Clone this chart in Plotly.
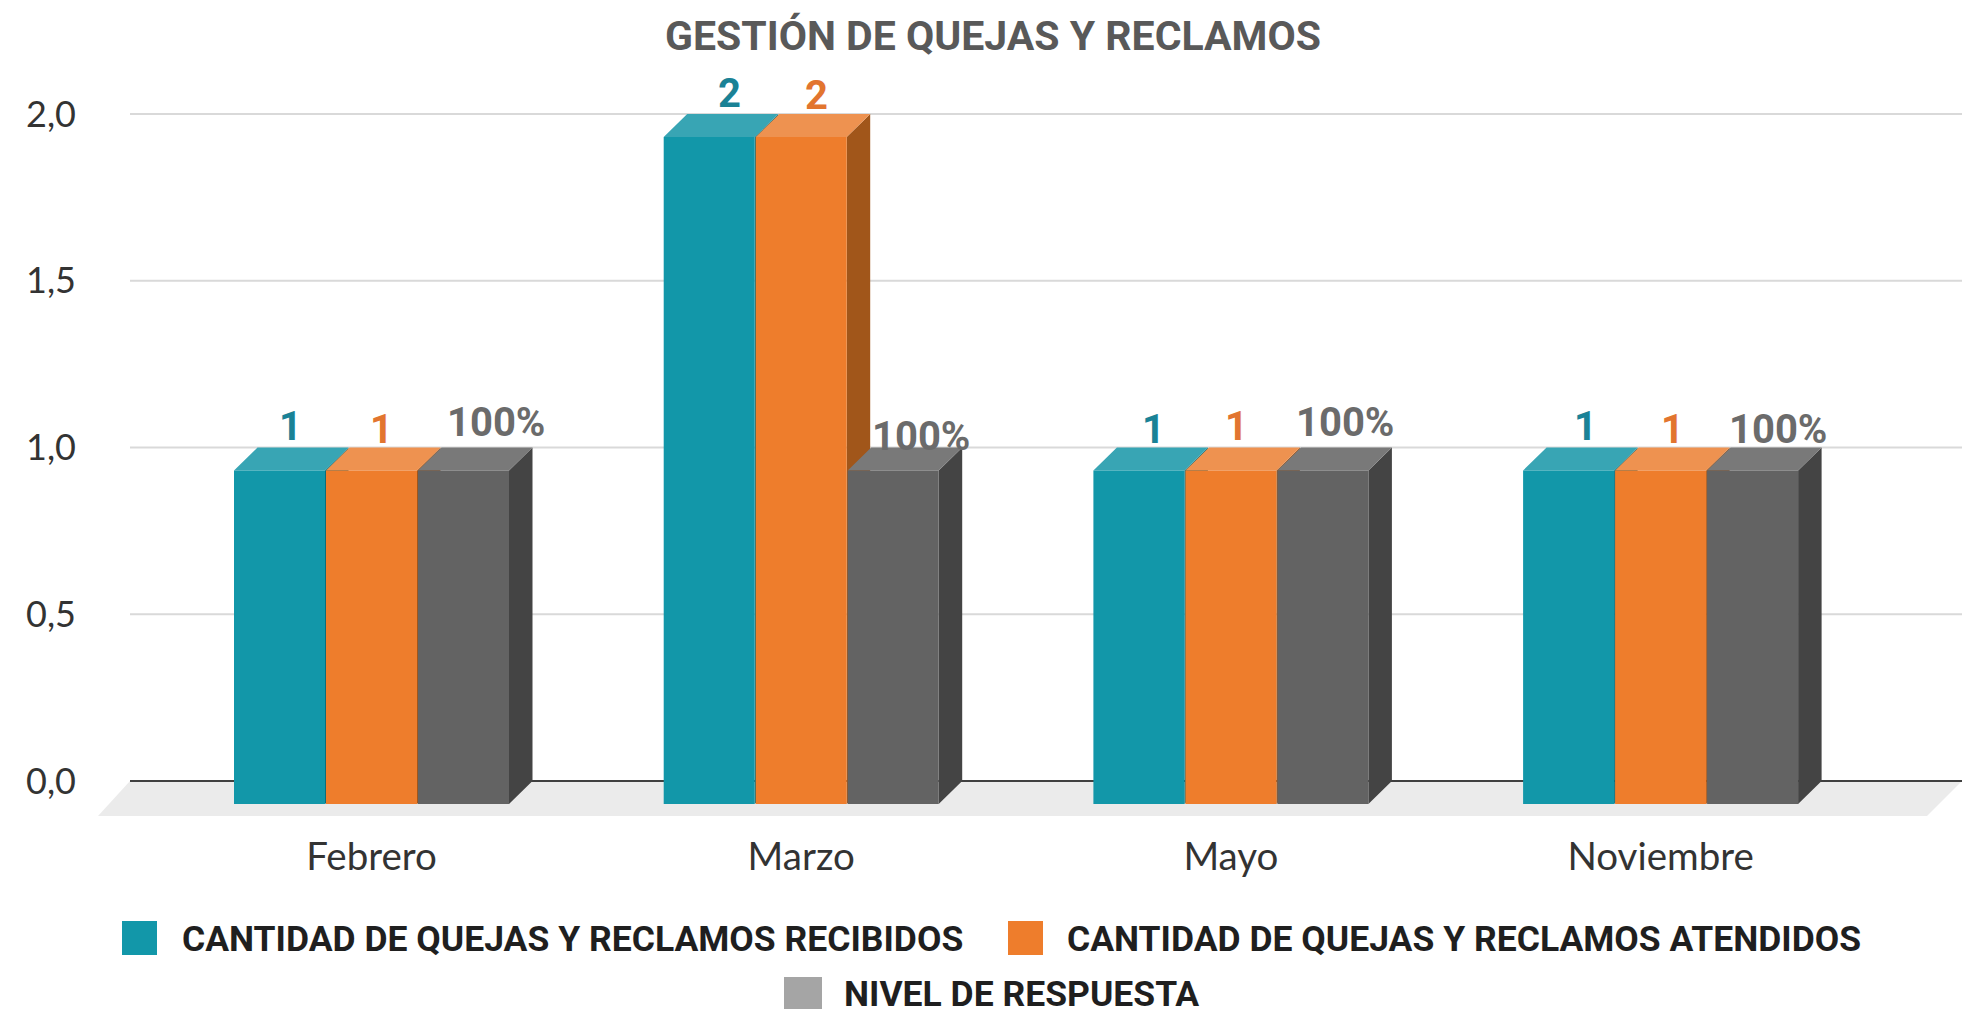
import plotly.graph_objects as go

# ---- data ----
months = ["Febrero", "Marzo", "Mayo", "Noviembre"]
recibidos = [1, 2, 1, 1]
atendidos = [1, 2, 1, 1]
respuesta = [1, 1, 1, 1]
respuesta_labels = ["100%", "100%", "100%", "100%"]
y_ticks = [0.0, 0.5, 1.0, 1.5, 2.0]
y_tick_labels = ["0,0", "0,5", "1,0", "1,5", "2,0"]
series_names = ["CANTIDAD DE QUEJAS Y RECLAMOS RECIBIDOS",
                "CANTIDAD DE QUEJAS Y RECLAMOS ATENDIDOS",
                "NIVEL DE RESPUESTA"]
title_text = "GESTIÓN DE QUEJAS Y RECLAMOS"

# ---- styles ----
W, H = 1964, 1009
PX_CAT, PX_UNIT = 429.7, 333.5      # pixels per category / per value unit
X0_PX, Y0_PX = 371.5, 781.0         # first category front centre, zero line
L, R, T, B = 90, 1964, 100, 825     # plot area in pixels
BAR_W, BAR_PITCH = 91 / PX_CAT, 92 / PX_CAT
DX, DY = 23.5 / PX_CAT, 23 / PX_UNIT  # 3D depth
front = ["#1297A9", "#EE7D2C", "#636363"]
top = ["#38A5B4", "#EE9250", "#797979"]
side = ["#0E6D79", "#A1561A", "#444444"]
label_col = ["#1A8296", "#E2752F", "#6B6B6B"]
label_nudge_x = [[-1, 9, 3, 5], [-2, 4, -6, 0], [21, 16, 10, 14]]
label_nudge_y = [[0, 0, 3, 0], [3, 2, 0, 3], [-4, 10, -4, 3]]
FONT_BOLD = "Roboto"
FONT_AXIS = "Lato"


def xd(px):
    return (px - X0_PX) / PX_CAT


def yd(px):
    return (Y0_PX - px) / PX_UNIT


def xp(px):
    return (px - L) / (R - L)


def yp(px):
    return (B - px) / (B - T)


fig = go.Figure()
series = [recibidos, atendidos, respuesta]
x_range = [xd(L), xd(R)]
y_range = [yd(B), yd(T)]

# floor
fig.add_trace(go.Scatter(
    x=[xd(130), xd(1962), xd(1927), xd(98), xd(130)],
    y=[0, 0, -35 / PX_UNIT, -35 / PX_UNIT, 0],
    mode="lines", fill="toself", fillcolor="#EBEBEB", line=dict(width=0),
    hoverinfo="skip", showlegend=False))

# gridlines
for t in y_ticks:
    fig.add_trace(go.Scatter(
        x=[xd(130), xd(1962)], y=[t, t], mode="lines",
        line=dict(color="#404040" if t == 0 else "#D9D9D9", width=2),
        hoverinfo="skip", showlegend=False))

# side and top faces
for k, vals in enumerate(series):
    sx, sy, tx, ty = [], [], [], []
    for i, v in enumerate(vals):
        c = i + (k - 1) * BAR_PITCH
        l, r = c - BAR_W / 2, c + BAR_W / 2
        lo, hi = -DY, v - DY
        sx += [r, r + DX, r + DX, r, r, None]
        sy += [lo, lo + DY, hi + DY, hi, lo, None]
        tx += [l, l + DX, r + DX, r, l, None]
        ty += [hi, hi + DY, hi + DY, hi, hi, None]
    fig.add_trace(go.Scatter(x=sx, y=sy, mode="lines", fill="toself", fillcolor=side[k],
                             line=dict(width=0), hoverinfo="skip", showlegend=False))
    fig.add_trace(go.Scatter(x=tx, y=ty, mode="lines", fill="toself", fillcolor=top[k],
                             line=dict(width=0), hoverinfo="skip", showlegend=False))

# front faces
for k, vals in enumerate(series):
    fig.add_trace(go.Bar(
        x=[i + (k - 1) * BAR_PITCH for i in range(len(months))],
        y=vals, base=-DY, width=BAR_W, marker=dict(color=front[k], line=dict(width=0)),
        name=series_names[k], xaxis="x2", yaxis="y2", showlegend=False))

annotations = []
shapes = []
# data labels
texts = [[str(v) for v in recibidos], [str(v) for v in atendidos], respuesta_labels]
for k, vals in enumerate(series):
    for i, v in enumerate(vals):
        c = i + (k - 1) * BAR_PITCH + DX / 2
        annotations.append(dict(
            x=c, y=v, xref="x", yref="y", text=texts[k][i], showarrow=False,
            xshift=label_nudge_x[k][i], yshift=21 - label_nudge_y[k][i],
            xanchor="center", yanchor="middle",
            font=dict(family=FONT_BOLD, size=40, color=label_col[k], weight=700)))

# title
annotations.append(dict(x=xp(993), y=yp(36), xref="paper", yref="paper", text=title_text,
                        showarrow=False, xanchor="center", yanchor="middle",
                        font=dict(family=FONT_BOLD, size=41, color="#595959", weight=700)))

# legend
legend_items = [(122, 157, 921, 955, 180, 939), (1008, 1043, 921, 955, 1065, 939),
                (784, 822, 977, 1009, 842, 994)]
for k, (x0, x1, y0, y1, tx, ty) in enumerate(legend_items):
    shapes.append(dict(type="rect", xref="paper", yref="paper", x0=xp(x0), x1=xp(x1),
                       y0=yp(y1), y1=yp(y0), line=dict(width=0),
                       fillcolor=front[k] if k < 2 else "#A5A5A5"))
    annotations.append(dict(x=xp(tx), y=yp(ty), xref="paper", yref="paper",
                            text=series_names[k], showarrow=False, xanchor="left", yanchor="middle",
                            font=dict(family=FONT_BOLD, size=35.5, color="#1F1F1F", weight=700)))

fig.update_layout(
    width=W, height=H, autosize=False,
    margin=dict(l=L, r=W - R, t=T, b=H - B, pad=0),
    paper_bgcolor="white", plot_bgcolor="rgba(0,0,0,0)", showlegend=False,
    barmode="overlay", annotations=annotations, shapes=shapes,
    xaxis=dict(range=x_range, tickmode="array", tickvals=list(range(len(months))), ticktext=months,
               showgrid=False, zeroline=False, showline=False, ticks="", ticklabelstandoff=5,
               tickfont=dict(family=FONT_AXIS, size=38.5, color="#333333")),
    yaxis=dict(range=y_range, tickmode="array", tickvals=y_ticks, ticktext=y_tick_labels,
               showgrid=False, zeroline=False, showline=False, ticks="", ticklabelstandoff=13,
               tickfont=dict(family=FONT_AXIS, size=36, color="#333333")),
    xaxis2=dict(range=x_range, overlaying="x", visible=False),
    yaxis2=dict(range=y_range, overlaying="y", visible=False),
)

fig.write_html("out.html", config=dict(displayModeBar=False),
               post_script="document.body.style.margin='0';document.body.style.overflow='hidden';")
